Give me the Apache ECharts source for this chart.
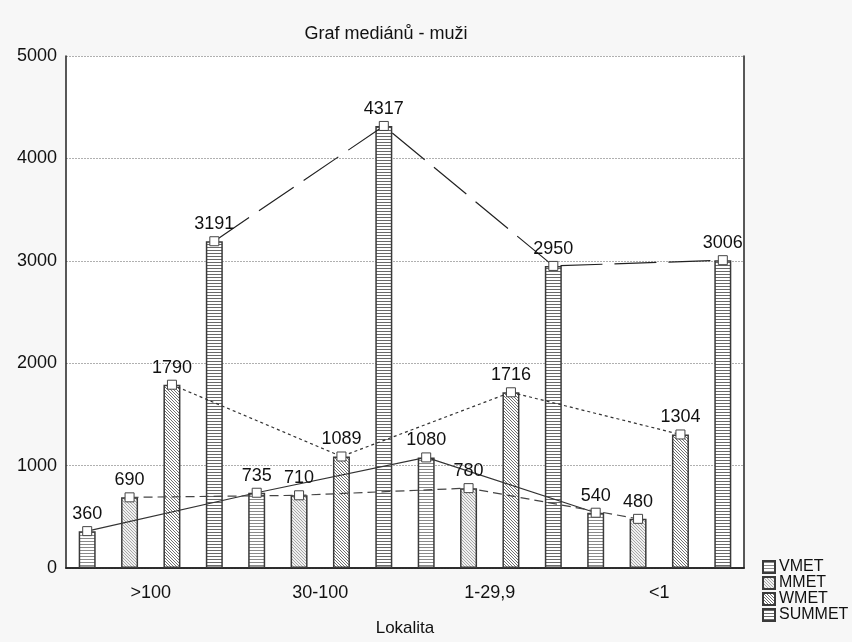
<!DOCTYPE html>
<html>
<head>
<meta charset="utf-8">
<script src="https://cdn.jsdelivr.net/npm/echarts@6/dist/echarts.min.js"></script>
<style>
  html, body { margin: 0; padding: 0; background: #fcfcfc; }
  #chart { width: 852px; height: 642px; }
</style>
</head>
<body>
<div id="chart"></div>
<script>
// Median values by locality size
const categories = ['>100', '30-100', '1-29,9', '<1'];
const seriesNames = ['VMET', 'MMET', 'WMET', 'SUMMET'];
const vmet = [360, 735, 1080, 540];
const mmet = [690, 710, 780, 480];
const wmet = [1790, 1089, 1716, 1304];
const summet = [3191, 4317, 2950, 3006];
const yTicks = [0, 1000, 2000, 3000, 4000, 5000];

const values = [vmet, mmet, wmet, summet];
const perGroup = seriesNames.length;

// Each category is split into four slots, one per series
const slotNames = [];
categories.forEach(c => seriesNames.forEach(s => slotNames.push(c + ' ' + s)));
function toSlots(arr, s) {
  const out = new Array(categories.length * perGroup).fill(null);
  arr.forEach((v, i) => { out[i * perGroup + s] = v; });
  return out;
}

// Hatch fills
function makePattern(kind) {
  const c = document.createElement('canvas');
  const ctx = c.getContext('2d');
  if (kind === 'hlight' || kind === 'hdark') {
    c.width = 4; c.height = 3;
    ctx.fillStyle = '#ffffff'; ctx.fillRect(0, 0, 4, 3);
    ctx.fillStyle = kind === 'hlight' ? '#8a8a8a' : '#6a6a6a';
    ctx.fillRect(0, 1, 4, 1);
  } else {
    c.width = 3; c.height = 3;
    ctx.fillStyle = kind === 'dlight' ? '#f0f0f0' : '#ffffff';
    ctx.fillRect(0, 0, 3, 3);
    ctx.fillStyle = kind === 'dlight' ? '#a8a8a8' : '#707070';
    for (let i = 0; i < 3; i++) ctx.fillRect(i, i, 1, 1);
  }
  return { image: c, repeat: 'repeat' };
}
const fills = [makePattern('hlight'), makePattern('dlight'), makePattern('ddark'), makePattern('hdark')];
const lineTypes = ['solid', [9, 5], [3, 3], [42, 12]];
const lineColors = ['#333333', '#444444', '#333333', '#222222'];

const series = [];
seriesNames.forEach((name, s) => {
  series.push({
    name: name,
    type: 'bar',
    xAxisIndex: 2,
    data: toSlots(values[s], s),
    barWidth: 17,
    barGap: '-100%',
    itemStyle: { color: fills[s], borderColor: '#3a3a3a', borderWidth: 1.5 },
    z: 2
  });
});
seriesNames.forEach((name, s) => {
  series.push({
    name: name,
    type: 'line',
    xAxisIndex: 2,
    data: toSlots(values[s], s),
    connectNulls: true,
    symbol: 'rect',
    symbolSize: 9,
    itemStyle: { color: '#ffffff', borderColor: '#444444', borderWidth: 1 },
    lineStyle: { color: lineColors[s], width: 1.2, type: lineTypes[s] },
    label: {
      show: true, position: 'top', distance: 3,
      fontFamily: 'Liberation Sans, Arial, sans-serif', fontSize: 18, color: '#111111'
    },
    z: 5
  });
});

const chart = echarts.init(document.getElementById('chart'), null, { renderer: 'canvas' });
chart.setOption({
  backgroundColor: '#f7f7f7',
  animation: false,
  textStyle: { fontFamily: 'Liberation Sans, Arial, sans-serif' },
  title: {
    text: 'Graf mediánů - muži',
    left: 381, top: 20, textAlign: 'center',
    textStyle: { fontSize: 18, fontWeight: 'normal', color: '#111111' }
  },
  grid: { left: 66, right: 108, top: 56, bottom: 66, show: true, backgroundColor: '#ffffff', borderWidth: 0 },
  legend: {
    data: seriesNames.map(n => ({ name: n, icon: 'rect' })),
    orient: 'vertical',
    left: 762, top: 559,
    padding: 0,
    itemWidth: 12, itemHeight: 12, itemGap: 0,
    textStyle: { fontSize: 16, lineHeight: 16, color: '#111111', padding: [0, 0, 0, -1] }
  },
  xAxis: [
    {
      type: 'category', data: categories, position: 'bottom',
      axisLine: { lineStyle: { color: '#222222', width: 1.5 } },
      axisTick: { inside: true, alignWithLabel: true, length: 5, lineStyle: { color: '#222222' } },
      axisLabel: { fontSize: 18, color: '#111111', margin: 16 },
      name: 'Lokalita', nameLocation: 'middle', nameGap: 52,
      nameTextStyle: { fontSize: 17, color: '#111111' }
    },
    {
      type: 'category', data: categories, position: 'top',
      axisLine: { lineStyle: { color: '#222222', width: 1.5 } },
      axisTick: { inside: true, alignWithLabel: true, length: 5, lineStyle: { color: '#222222' } },
      axisLabel: { show: false }
    },
    { type: 'category', data: slotNames, show: false }
  ],
  yAxis: [
    {
      type: 'value', min: 0, max: 5000, interval: 1000,
      axisLine: { show: true, lineStyle: { color: '#222222', width: 1.5 } },
      axisTick: { show: false },
      axisLabel: { fontSize: 18, color: '#111111', margin: 9, formatter: v => yTicks.indexOf(v) >= 0 ? String(v) : '' },
      splitLine: { lineStyle: { color: '#b0b0b0', type: [2, 1], width: 1 } }
    },
    {
      type: 'value', min: 0, max: 5000, interval: 1000, position: 'right',
      axisLine: { show: true, lineStyle: { color: '#222222', width: 1.5 } },
      axisTick: { show: false }, axisLabel: { show: false }, splitLine: { show: false }
    }
  ],
  series: series
});
</script>
</body>
</html>
